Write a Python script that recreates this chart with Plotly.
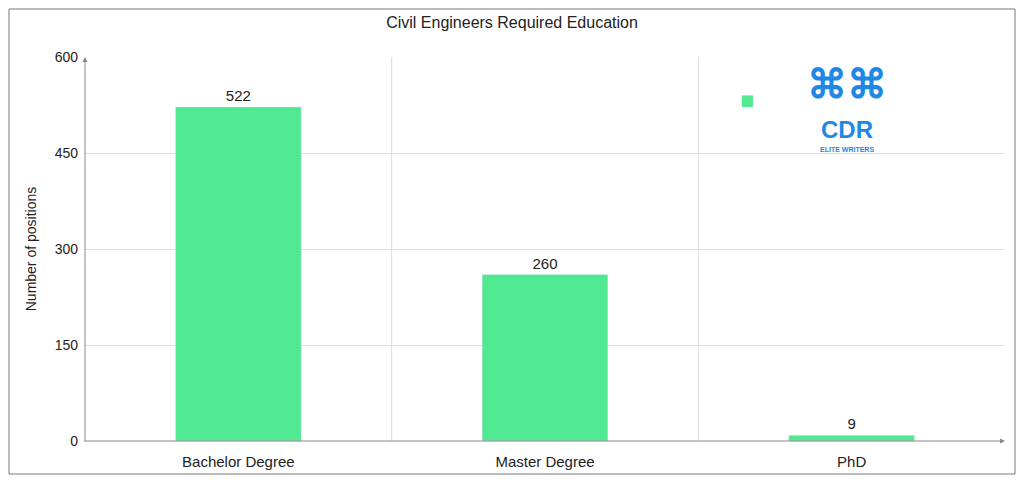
import plotly.graph_objects as go

categories = ["Bachelor Degree", "Master Degree", "PhD"]
positions = [522, 260, 9]
y_ticks = [0, 150, 300, 450, 600]

W, H = 1008, 467
L, R, T, B = 77, 11, 49, 34
PW, PH = W - L - R, H - T - B

fig = go.Figure()
fig.add_trace(go.Bar(x=categories, y=positions, marker_color="#50E890",
                     text=[str(v) for v in positions], textposition="outside",
                     textfont=dict(size=15, color="#222"), cliponaxis=False,
                     showlegend=False))

fig.update_layout(
    width=W, height=H,
    margin=dict(l=L, r=R, t=T, b=B, autoexpand=False),
    paper_bgcolor="white", plot_bgcolor="white",
    font=dict(family="Liberation Sans, Arial", size=14, color="#222"),
    title=dict(text="Civil Engineers Required Education", x=0.5, y=1 - 14 / H,
               xanchor="center", yanchor="middle", font=dict(size=16, color="#222")),
    bargap=0.59,
    xaxis=dict(range=[-0.5, 2.5], showgrid=False, ticks="", tickfont=dict(size=15),
               ticklabelstandoff=10, automargin=False),
    yaxis=dict(range=[0, 600], tickvals=y_ticks, gridcolor="#dddddd",
               title=dict(text="Number of positions", font=dict(size=14), standoff=14),
               ticks="", ticklabelstandoff=6, zeroline=False, automargin=False),
    shapes=[
        dict(type="rect", xref="paper", yref="paper", x0=-(L - 1) / PW, x1=(PW + R - 1) / PW,
             y0=-(B - 1) / PH, y1=(PH + T - 1) / PH,
             line=dict(color="#777", width=1), layer="below"),
        dict(type="line", xref="x", yref="paper", x0=0.5, x1=0.5, y0=0, y1=1,
             line=dict(color="#dddddd", width=1), layer="below"),
        dict(type="line", xref="x", yref="paper", x0=1.5, x1=1.5, y0=0, y1=1,
             line=dict(color="#dddddd", width=1), layer="below"),
        dict(type="rect", xref="paper", yref="paper", x0=0.714, x1=0.726, y0=0.87, y1=0.9,
             fillcolor="#50E890", line=dict(width=0)),
    ],
    annotations=[
        dict(xref="paper", yref="paper", x=0, y=1.0, ax=0, ay=PH + 2, axref="pixel", ayref="pixel",
             showarrow=True, arrowhead=2, arrowsize=1, arrowwidth=1, arrowcolor="#888",
             text="", standoff=0, startstandoff=0),
        dict(xref="paper", yref="paper", x=1.0, y=0, ax=-(PW + 2), ay=0,
             showarrow=True, arrowhead=2, arrowsize=1, arrowwidth=1, arrowcolor="#888",
             text="", standoff=0),
        dict(xref="paper", yref="paper", x=0.828, y=0.93, text="<b>⌘⌘</b>", showarrow=False,
             xanchor="center", yanchor="middle", font=dict(size=40, color="#1E88E5")),
        dict(xref="paper", yref="paper", x=0.828, y=0.81, text="<b>CDR</b>", showarrow=False,
             xanchor="center", yanchor="middle", font=dict(size=24, color="#1E88E5")),
        dict(xref="paper", yref="paper", x=0.828, y=0.758, text="<b>ELITE WRITERS</b>", showarrow=False,
             xanchor="center", yanchor="middle", font=dict(size=7, color="#1E88E5")),
    ],
)
fig.write_html("out.html")
